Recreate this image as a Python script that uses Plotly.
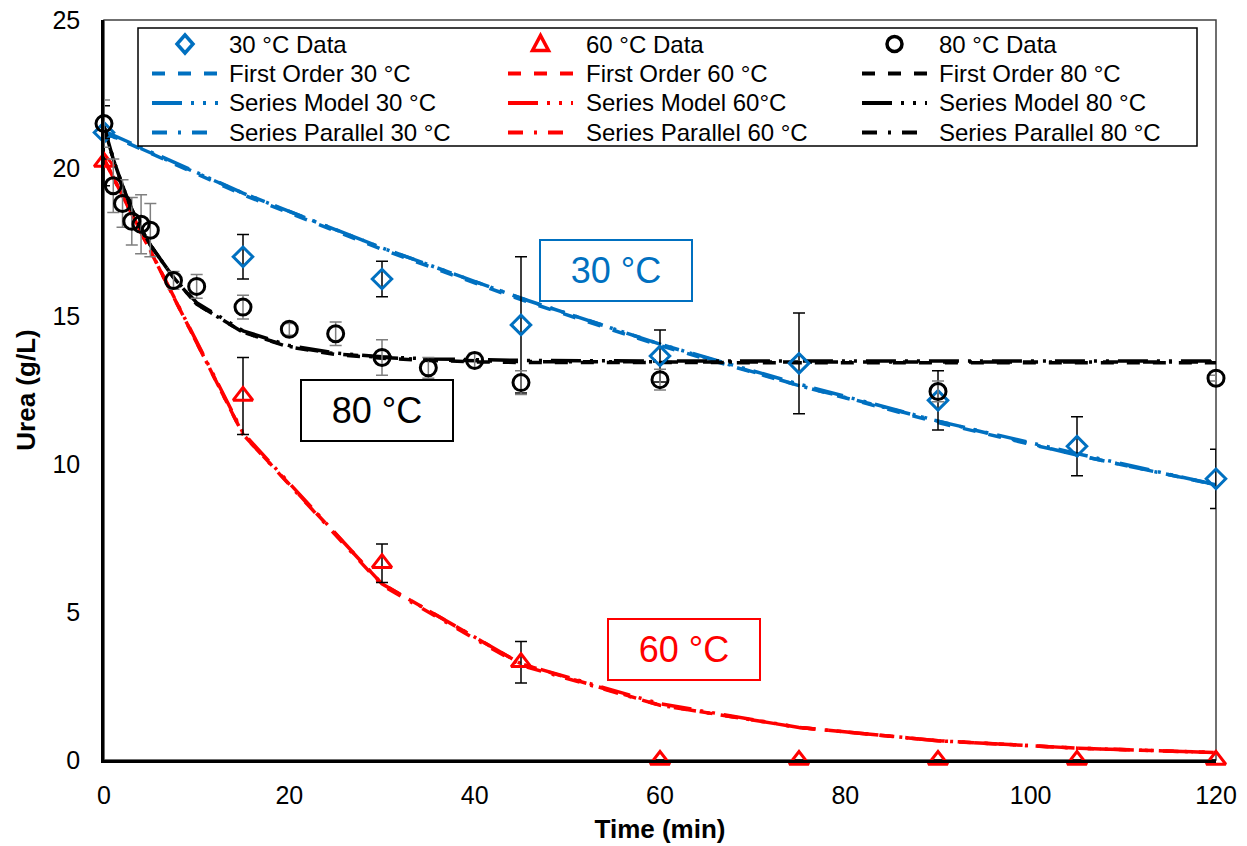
import plotly.graph_objects as go

# ---------------- data ----------------
t30 = [0, 15, 30, 45, 60, 75, 90, 105, 120]
u30 = [21.2, 17.0, 16.25, 14.7, 13.65, 13.4, 12.15, 10.6, 9.5]
e30 = [0.9, 0.75, 0.6, 2.3, 0.88, 1.7, 1.0, 1.0, 1.0]

t60 = [0, 15, 30, 45, 60, 75, 90, 105, 120]
u60 = [20.2, 12.3, 6.65, 3.3, 0, 0, 0, 0, 0]
e60 = [0.8, 1.3, 0.65, 0.7, 0, 0, 0, 0, 0]

t80 = [0, 1, 2, 3, 4, 5, 7.5, 10, 15, 20, 25, 30, 35, 40, 45, 60, 90, 120]
u80 = [21.5, 19.4, 18.8, 18.2, 18.1, 17.9, 16.2, 16.0, 15.3, 14.55, 14.4, 13.6,
       13.25, 13.5, 12.75, 12.85, 12.45, 12.9]
e80 = [0.8, 0.9, 0.8, 0.8, 1.0, 0.9, 0.3, 0.4, 0.4, 0.2, 0.4, 0.6,
       0.35, 0.25, 0.4, 0.35, 0.35, 0.1]

tm30 = [0, 15, 30, 45, 60, 75, 90, 105, 120]
fo30 = [21.2, 19.1, 17.25, 15.55, 14.0, 12.65, 11.4, 10.3, 9.3]
sm30 = [21.25, 19.15, 17.3, 15.6, 14.05, 12.7, 11.45, 10.35, 9.3]
sp30 = [21.2, 19.15, 17.3, 15.6, 14.05, 12.65, 11.45, 10.3, 9.3]

tm60 = [0, 15, 30, 45, 60, 75, 90, 105, 120]
fo60 = [20.3, 11.0, 5.95, 3.25, 1.85, 1.1, 0.65, 0.4, 0.25]
sm60 = [20.3, 11.05, 5.95, 3.25, 1.9, 1.1, 0.65, 0.4, 0.25]
sp60 = [20.3, 11.0, 5.9, 3.2, 1.85, 1.1, 0.65, 0.4, 0.25]

tm80 = [0, 1, 2, 3, 4, 5, 7.5, 10, 15, 20, 25, 30, 35, 40, 45, 60, 75, 90, 105, 120]
fo80 = [21.4, 20.3, 19.4, 18.6, 17.95, 17.4, 16.3, 15.4, 14.45, 13.95, 13.7,
        13.57, 13.5, 13.45, 13.43, 13.42, 13.42, 13.42, 13.42, 13.42]
sm80 = [21.4, 20.3, 19.4, 18.6, 17.95, 17.4, 16.3, 15.45, 14.5, 14.0, 13.75,
        13.62, 13.55, 13.52, 13.5, 13.48, 13.48, 13.48, 13.48, 13.48]
sp80 = [21.4, 20.3, 19.4, 18.6, 17.95, 17.4, 16.3, 15.4, 14.45, 13.97, 13.72,
        13.6, 13.52, 13.48, 13.46, 13.45, 13.45, 13.45, 13.45, 13.45]

labels_data = ["30 °C Data", "60 °C Data", "80 °C Data"]
labels_fo = ["First Order 30 °C", "First Order 60 °C", "First Order 80 °C"]
labels_sm = ["Series Model 30 °C", "Series Model 60°C", "Series Model 80 °C"]
labels_sp = ["Series Parallel 30 °C", "Series Parallel 60 °C", "Series Parallel 80 °C"]

# ---------------- style ----------------
BLUE = "#0070C0"
RED = "#FF0000"
BLACK = "#000000"
FONT = "Liberation Sans, Arial, sans-serif"
LW = 3.5
DASH_FO = "13px,13px"
DASH_SM = "30px,9px,3px,9px,3px,9px"
DASH_SP = "15px,11px,3px,11px"

W, H = 1247, 846
L, T = 104, 20
PW, PH = 1112, 740
R, B = W - L - PW, H - T - PH


def px_x(p):
    return (p - L) / PW


def px_y(p):
    return (T + PH - p) / PH


fig = go.Figure()

colors = [BLUE, RED, BLACK]
models = [(tm30, fo30, sm30, sp30), (tm60, fo60, sm60, sp60), (tm80, fo80, sm80, sp80)]
for i, (tm, fo, sm, sp) in enumerate(models):
    c = colors[i]
    for yy, nm, dd in ((fo, labels_fo[i], DASH_FO), (sm, labels_sm[i], DASH_SM),
                       (sp, labels_sp[i], DASH_SP)):
        fig.add_trace(go.Scatter(x=tm, y=yy, mode="lines", name=nm, showlegend=False,
                                 line=dict(color=c, width=LW, dash=dd)))

data_sets = [
    (t30, u30, e30, BLUE, "diamond-open", 15, "#000000"),
    (t60, u60, e60, RED, "triangle-up-open", 17, "#000000"),
    (t80, u80, e80, BLACK, "circle-open", 16, "#7F7F7F"),
]
for i, (t, u, e, c, sym, sz, ec) in enumerate(data_sets):
    fig.add_trace(go.Scatter(
        x=t, y=u, mode="markers", name=labels_data[i], showlegend=False,
        marker=dict(symbol=sym, size=sz, color=c, line=dict(color=c, width=3)),
        error_y=dict(type="data", array=e, visible=True, color=ec,
                     thickness=1.5, width=6),
        cliponaxis=False))

# text boxes
boxes = [("30 °C", 55.3, 16.55, BLUE), ("80 °C", 29.5, 11.8, BLACK), ("60 °C", 62.6, 3.75, RED)]
for txt, bx, by, c in boxes:
    fig.add_annotation(x=bx, y=by, xref="x", yref="y", text=txt, showarrow=False,
                       font=dict(family=FONT, size=36, color=c),
                       width=148, height=57, bordercolor=c, borderwidth=2,
                       borderpad=1, bgcolor="white")

# plot border (top/right)
fig.add_shape(type="rect", xref="paper", yref="paper", x0=0, y0=0, x1=1, y1=1,
              line=dict(color="#404040", width=1.5), layer="below")

# ---------------- legend (3 columns x 4 rows) ----------------
fig.add_shape(type="rect", xref="paper", yref="paper",
              x0=px_x(138), x1=px_x(1197), y0=px_y(146), y1=px_y(28),
              line=dict(color="black", width=1.5), fillcolor="white", layer="above")
rows_y = [44, 73.5, 103, 132.5]
col_line = [(152, 218), (508, 573), (862, 927)]
col_text = [227, 584, 937]
marker_paths = [
    "M 0,9 L 8,0 L 0,-9 L -8,0 Z",
    "M -8,-6.5 L 8,-6.5 L 0,8.5 Z",
    None,
]
for ci in range(3):
    c = colors[ci]
    xa, xb = col_line[ci]
    xm = (xa + xb) / 2
    if marker_paths[ci]:
        fig.add_shape(type="path", xref="paper", yref="paper",
                      xsizemode="pixel", ysizemode="pixel",
                      xanchor=px_x(xm), yanchor=px_y(rows_y[0]),
                      path=marker_paths[ci], line=dict(color=c, width=3.5),
                      fillcolor="rgba(0,0,0,0)", layer="above")
    else:
        fig.add_shape(type="circle", xref="paper", yref="paper",
                      xsizemode="pixel", ysizemode="pixel",
                      xanchor=px_x(xm), yanchor=px_y(rows_y[0]),
                      x0=-7.5, x1=7.5, y0=-7.5, y1=7.5,
                      line=dict(color=c, width=3.5), layer="above")
    for ri, dd in ((1, DASH_FO), (2, DASH_SM), (3, DASH_SP)):
        fig.add_shape(type="line", xref="paper", yref="paper",
                      x0=px_x(xa), x1=px_x(xb), y0=px_y(rows_y[ri]), y1=px_y(rows_y[ri]),
                      line=dict(color=c, width=4, dash=dd), layer="above")
    texts = [labels_data[ci], labels_fo[ci], labels_sm[ci], labels_sp[ci]]
    for ri, txt in enumerate(texts):
        fig.add_annotation(x=px_x(col_text[ci]), y=px_y(rows_y[ri]), xref="paper", yref="paper",
                           text=txt, showarrow=False, xanchor="left", yanchor="middle",
                           font=dict(family=FONT, size=24, color="black"))

fig.update_layout(
    width=W, height=H,
    margin=dict(l=L, r=R, t=T, b=B),
    paper_bgcolor="white", plot_bgcolor="white",
    font=dict(family=FONT, size=25, color="black"),
    showlegend=False,
    xaxis=dict(range=[0, 120], dtick=20, tick0=0, showgrid=False, zeroline=False,
               showline=True, linecolor="black", linewidth=2.5, ticks="",
               automargin=False, ticklabeloverflow="allow",
               tickfont=dict(size=25), ticklabelstandoff=11,
               title=dict(text="<b>Time (min)</b>", font=dict(size=26), standoff=13)),
    yaxis=dict(range=[0, 25], dtick=5, tick0=0, showgrid=False, zeroline=False,
               showline=True, linecolor="black", linewidth=2.5, ticks="",
               automargin=False, ticklabeloverflow="allow",
               tickfont=dict(size=25), ticklabelstandoff=16,
               title=dict(text="<b>Urea (g/L)</b>", font=dict(size=26), standoff=10)),
)

# remove the default 8px page margin so the figure sits at the window origin
fig.write_html("out.html", config={"displayModeBar": False},
               post_script="document.body.style.margin='0';document.body.style.overflow='hidden';")
